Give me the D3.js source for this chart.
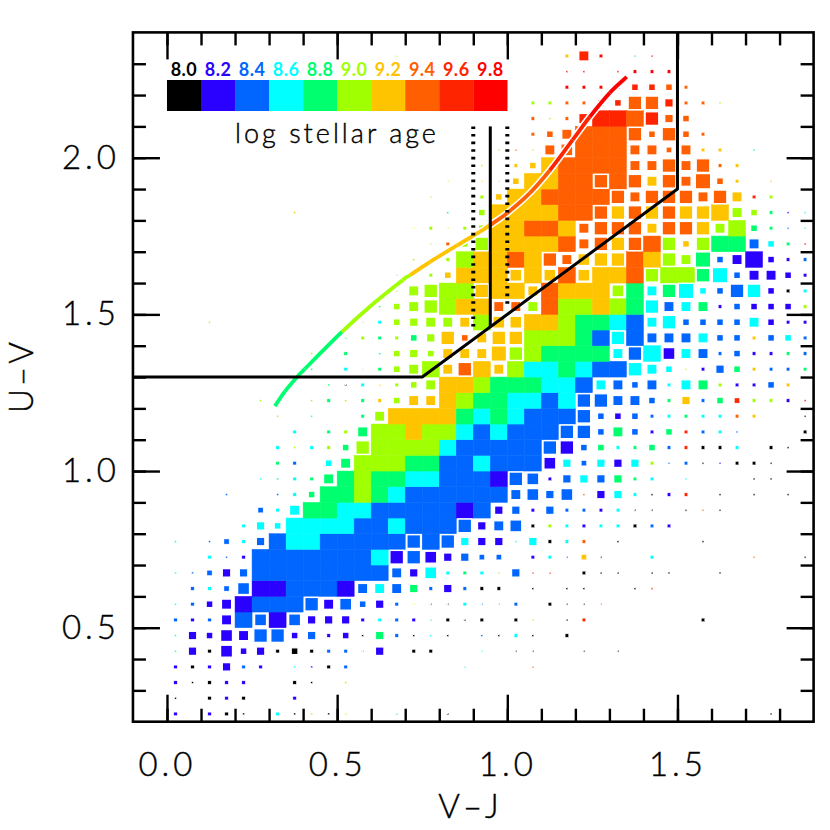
<!DOCTYPE html>
<html><head><meta charset="utf-8">
<script src="https://cdn.jsdelivr.net/npm/d3@7/dist/d3.min.js"></script>
<style>html,body{margin:0;padding:0;background:#fff}svg{display:block}
text{font-family:"Lato","Open Sans",sans-serif;fill:#000}</style></head>
<body><svg id="c" width="830" height="830"></svg>
<script>
const ageLabels=["8.0","8.2","8.4","8.6","8.8","9.0","9.2","9.4","9.6","9.8"];
const ageColors=["#000000","#2a00ff","#0066ff","#00ffff","#00ff6e","#a0ff00","#ffc400","#ff5f00","#ff2400","#ff0000"];
const xMajor=[0,0.5,1,1.5];
const yMajor=[0.5,1,1.5,2];
const xMinor=[0,0.1,0.2,0.3,0.4,0.5,0.6,0.7,0.8,0.9,1,1.1,1.2,1.3,1.4,1.5,1.6,1.7,1.8];
const yMinor=[0.3,0.4,0.5,0.6,0.7,0.8,0.9,1,1.1,1.2,1.3,1.4,1.5,1.6,1.7,1.8,1.9,2,2.1,2.2,2.3];
const binStart=[0,0.2],binStep=0.05;
// Each row: age code per V-J bin, rows run from U-V 0.2 upward (groups of ten bins)
const ageRows=[
"1.100.3050 5..4..0... .......... .....0..",
"0.010..1.. .......... .......... ........",
"10011..00. 5......... .......... ........",
"101121.310 2......3.. .7........ ........",
"3101110002 221.00..4. 00..0.0... ........",
"3111122121 1042030.20 30.0...... ........",
"2121221211 113214000. 06.08..... .0......",
"3211122221 2212500327 2.0007.... ........",
".232211222 1232421200 .0.00..08. ........",
"3221222222 2222133436 288.000.00 ..0.....",
"..32122222 2231211222 .13160..3. ....7..0",
"3.22322332 2222222311 33037.0... .0......",
"....333333 3223222212 2053133021 ........",
".....23344 3322222121 212221300. 070.....",
"...2..2344 4543222222 2222713301 8.0.0.0.",
".....34344 4544332221 221232443. 3...00..",
"......42.3 4555442232 2213231352 201000..",
"......3535 4555553222 2221243442 8003.00.",
".......3.4 5455655323 2222224214 8232...0",
"......5.3. .456666434 3222221223 43376..0",
".....5..54 5465666544 3323222224 62485519",
".........4 0365556654 4433232223 3451126.",
"........4. 3545556766 5334322333 51246224",
"........5. 4.45556666 5544443231 32221142",
".......... 4545456766 6555423222 23226232",
"..5....... .435555656 6665443233 22223111",
".......... ..45555667 7575565432 34121115",
".......... ...5555566 6676665434 33223103",
".......... ...4.56666 6667666755 54321111",
".......... ....5.5566 7677666765 54211112",
".......... .....57556 6667776775 65442349",
".......... ....555556 6776777767 76554423",
".......6.. ......4.56 6667776767 66655413",
".......... .....5..56 6677777777 777685..",
".......... ......5.65 6667777767 7776.6..",
".......... ........5. 6667777777 7776....",
".......... .........6 7577777777 766.4...",
".......... ....4..... .777777777 77......",
".......... .......... .757888787 7.......",
".......... .......... .557788778 775.....",
".......... .......... ...9998887 7.......",
".......... .......... ...99.9999 ........",
".......... ...5...... ...689.49. ........"
];
// Same grid: relative square size in tenths of a bin (F = full bin)
const sizeRows=[
"2.221.2111 1..1..1... .......... .....1..",
"1.222..2.. .......... .......... ........",
"21222..21. 1......... .......... ........",
"222522.112 2......1.. .1........ ........",
"1527452422 215.22..1. 11..1.1... ........",
"1547688452 4152111.11 21.2...... ........",
"2226F7F755 522221212. 21.12..... .2......",
"1246FFFF86 7452111211 2.2111.... ........",
".2237FFFFF F666525222 .1.11..11. ........",
"11355FFFFF FFF6572221 511.211.11 ..1.....",
"..212FFFFF FFF8875533 .22131..2. ....1..1",
"1.1325FFFF FFFF8F8555 15222.1... .1......",
"....254FFF FFFFFFF856 7222222222 ........",
".....326FF FFFFFFFFF5 525222211. 111.....",
"...1..124F FFFFFFFFFF 6757155212 2.1.1.1.",
".....11226 FFFFFFFFFF 872555522. 1...11..",
"......22.4 6FFFFFFFFF FF75355521 211221..",
"......2122 48FFFFFFFF FF88442242 2222.21.",
".......2.2 26FFFFFFFF FFF8846424 2221...2",
"......1.1. .26FFFFFFF FFFF844422 22222..1",
".....1..12 122466FFFF FFFF886642 52432221",
".........1 121246FFFF FFFFF66462 6622242.",
"........1. 21246F68F6 FFFFFFF864 12542222",
"........1. 2.14546669 8FFFFF68F7 66242222",
".......... 1222458468 8FFFFF8F66 66442442",
"..1....... .1245666F7 7FFFFFFF68 44446422",
".......... ..1468FFF6 66FFFFFF86 66244442",
".......... ...168FF8F F6FFFF7F68 94488422",
".......... ...1.24FFF 7F7F7FFF8F F8946642",
".......... ....1.2FFF FF86788FF8 6946F422",
".......... .....1248F FFFF6888F8 48FF6421",
".......... ....12124F FFFF688868 886F4211",
".......1.. ......1.4F FFFFF88888 88F64211",
".......... .....1..24 FFFFFF8688 868622..",
".......... ......1.11 4FFFF8F868 6942.1..",
".......... ........1. 24FFFFF668 6822....",
".......... .........1 1167FFF663 622.1...",
".......... ....1..... .246FFF848 42......",
".......... .......... .2126FFF85 4.......",
".......... .......... .222244885 221.....",
".......... .......... ...2222444 2.......",
".......... .......... ...11.1222 ........",
".......... ...1...... ...262.11. ........"
];
const trackVJ=[0.317,0.347,0.382,0.405,0.514,0.605,0.693,0.714,0.772,0.852,0.919,0.949,0.999,1.066,1.125,1.192,1.242,1.301,1.351];
const trackUV=[1.207,1.255,1.30,1.326,1.444,1.533,1.61,1.625,1.667,1.72,1.763,1.785,1.823,1.887,1.96,2.057,2.13,2.207,2.258];
const trackAge=[4,4,4,4,5,5,5,6,6,6,6,7,7,7,8,8,9,9];
const boxVJ=[-0.1,0.75,1.5,1.5];
const boxUV=[1.3,1.3,1.9,2.4];
const centerCut=[0.95,1.46,2.1];
const dotCutA=[0.9,1.445,2.1];
const dotCutB=[1.0,1.53,2.1];

const svg=d3.select("#c");
const x=d3.scaleLinear().domain([-0.1,1.9]).range([132.95,813.6]);
const y=d3.scaleLinear().domain([0.2,2.4]).range([721.7,32.4]);
const cellW=x(binStep)-x(0), cellH=y(0)-y(binStep);
const color=d3.scaleOrdinal().domain(d3.range(10)).range(ageColors);

const cells=[];
ageRows.forEach((row,j)=>{
  const a=row.replace(/ /g,""), s=sizeRows[j].replace(/ /g,"");
  a.split("").forEach((c,k)=>{
    if(c==="."||s[k]===".")return;
    const full=s[k]==="F";
    cells.push({k,j,age:+c,full,level:full?10:+s[k]});
  });
});
const side=d3.scaleLinear().domain([0,10]).range([0,cellW]);
function drawCells(data,cls){
  svg.append("g").attr("class",cls).selectAll("rect").data(data).join("rect")
   .attr("x",d=>x(binStart[0]+(d.k+0.5)*binStep)-side(d.level)/2)
   .attr("y",d=>y(binStart[1]+(d.j+0.5)*binStep)-Math.min(side(d.level),cellH)/2)
   .attr("width",d=>side(d.level))
   .attr("height",d=>Math.min(side(d.level),cellH))
   .attr("fill",d=>color(d.age));
}
drawCells(cells.filter(d=>d.full),"full");
svg.select(".full").selectAll("rect").attr("stroke",d=>color(d.age)).attr("stroke-width",0.5);
drawCells(cells.filter(d=>!d.full),"part");
svg.select(".part").selectAll("rect").attr("stroke","#fff").attr("stroke-width",d=>d.level>=4?1.3:0.4);

// evolutionary track, smoothed with Catmull-Rom segments
const pts=trackVJ.map((v,i)=>[x(v),y(trackUV[i])]);
function segPath(i){
  const p0=pts[Math.max(i-1,0)],p1=pts[i],p2=pts[i+1],p3=pts[Math.min(i+2,pts.length-1)];
  const p=d3.path();p.moveTo(p1[0],p1[1]);
  p.bezierCurveTo(p1[0]+(p2[0]-p0[0])/6,p1[1]+(p2[1]-p0[1])/6,p2[0]-(p3[0]-p1[0])/6,p2[1]-(p3[1]-p1[1])/6,p2[0],p2[1]);
  return p.toString();
}
svg.append("path").attr("d",d3.line().curve(d3.curveCatmullRom.alpha(0))(pts)).attr("fill","none").attr("stroke","#fff").attr("stroke-width",7);
const seg=svg.append("g").attr("fill","none").attr("stroke-width",3.8).attr("stroke-linecap","butt");
trackAge.forEach((a,i)=>seg.append("path").attr("d",segPath(i)).attr("stroke",color(a)));

// selection lines
const lineG=svg.append("g").attr("fill","none").attr("stroke","#000");
lineG.append("path").attr("stroke-width",3).attr("stroke-linejoin","round")
 .attr("d",d3.line()(boxVJ.map((v,i)=>[x(v),y(boxUV[i])])));
lineG.append("path").attr("stroke-width",3)
 .attr("d",d3.line()([[x(centerCut[0]),y(centerCut[1])],[x(centerCut[0]),y(centerCut[2])]]));
[dotCutA,dotCutB].forEach(c=>lineG.append("path").attr("stroke-width",4).attr("stroke-dasharray","2.6 5")
 .attr("d",d3.line()([[x(c[0]),y(c[2])],[x(c[0]),y(c[1])]])));

// legend
const band=d3.scaleBand().domain(ageLabels).range([x(0),x(1)]);
const leg=svg.append("g");
leg.selectAll("rect").data(ageLabels).join("rect")
 .attr("x",d=>band(d)).attr("y",80).attr("width",band.bandwidth()+0.2).attr("height",31)
 .attr("fill",(d,i)=>color(i));
leg.selectAll("text").data(ageLabels).join("text")
 .attr("x",d=>band(d)+band.bandwidth()/2).attr("y",75.5).attr("text-anchor","middle")
 .attr("font-size",18).attr("font-weight",700).attr("letter-spacing",0.5)
 .style("fill",(d,i)=>color(i)).text(d=>d);
const thin=s=>s.attr("font-weight",300).attr("stroke","#000").attr("stroke-width",0.4);
leg.append("text").attr("x",337).attr("y",143).attr("text-anchor","middle")
 .attr("font-size",27).attr("letter-spacing",3).call(thin).text("log stellar age");

// frame and ticks
function styleAxis(g){g.select(".domain").remove();g.selectAll("line").attr("stroke","#000").attr("stroke-width",2.4);g.selectAll("text").attr("font-size",33).attr("letter-spacing",4).style("font-family",'"Lato",sans-serif').call(thin);}
const B=y(0.2),T=y(2.4),L=x(-0.1),R=x(1.9);
svg.append("g").attr("transform",`translate(0,${B})`).call(d3.axisBottom(x).tickValues(xMinor).tickSize(-13).tickFormat("")).call(styleAxis);
svg.append("g").attr("transform",`translate(0,${T})`).call(d3.axisTop(x).tickValues(xMinor).tickSize(-13).tickFormat("")).call(styleAxis);
svg.append("g").attr("transform",`translate(${L},0)`).call(d3.axisLeft(y).tickValues(yMinor).tickSize(-13).tickFormat("")).call(styleAxis);
svg.append("g").attr("transform",`translate(${R},0)`).call(d3.axisRight(y).tickValues(yMinor).tickSize(-13).tickFormat("")).call(styleAxis);
svg.append("g").attr("transform",`translate(0,${B})`).call(d3.axisBottom(x).tickValues(xMajor).tickSize(-27).tickPadding(31).tickFormat(d3.format(".1f"))).call(styleAxis);
svg.append("g").attr("transform",`translate(0,${T})`).call(d3.axisTop(x).tickValues(xMajor).tickSize(-27).tickFormat("")).call(styleAxis);
svg.append("g").attr("transform",`translate(${L},0)`).call(d3.axisLeft(y).tickValues(yMajor).tickSize(-27).tickPadding(13).tickFormat(d3.format(".1f"))).call(styleAxis);
svg.append("g").attr("transform",`translate(${R},0)`).call(d3.axisRight(y).tickValues(yMajor).tickSize(-27).tickFormat("")).call(styleAxis);
svg.append("rect").attr("x",L).attr("y",T).attr("width",R-L).attr("height",B-T).attr("fill","none").attr("stroke","#000").attr("stroke-width",2.6);

svg.append("text").attr("x",470).attr("y",818).attr("text-anchor","middle").attr("font-size",33).attr("letter-spacing",3).call(thin).text("V\u2013J");
svg.append("text").attr("transform","translate(33,376) rotate(-90)").attr("text-anchor","middle").attr("font-size",33).attr("letter-spacing",3).call(thin).text("U\u2013V");
</script></body></html>
